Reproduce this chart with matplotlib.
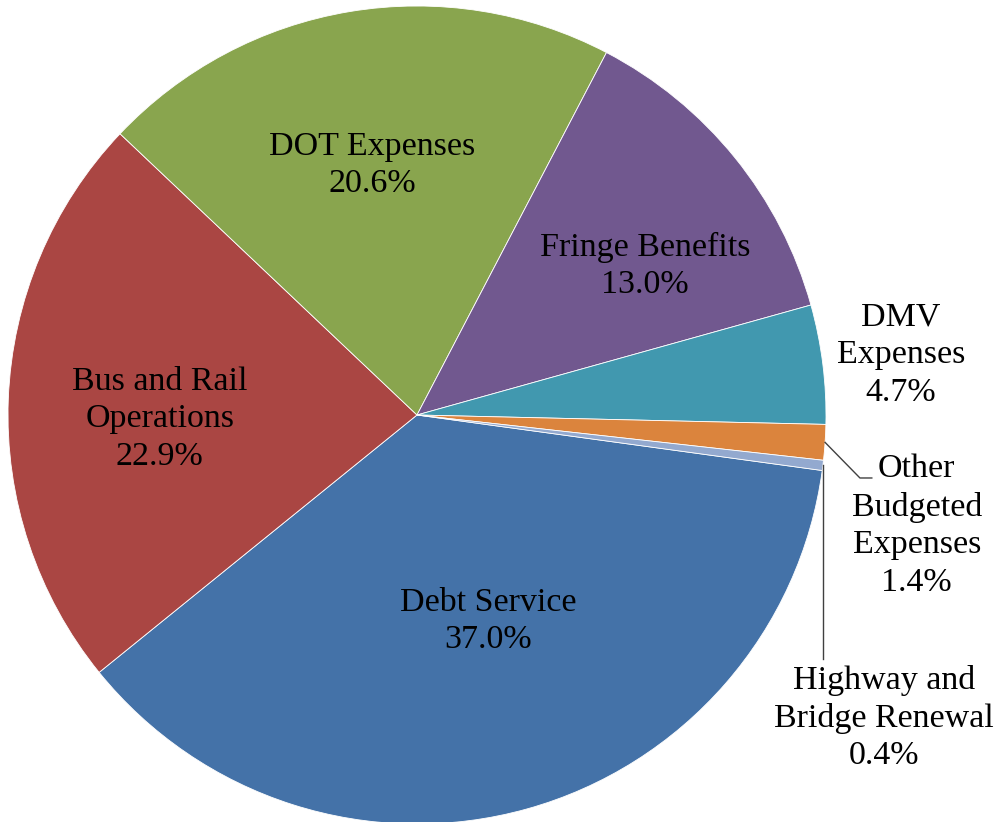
import numpy as np
import matplotlib
matplotlib.use('Agg')
import matplotlib.pyplot as plt

# budget shares, in the order the slices run clockwise
categories = ['Debt Service', 'Bus and Rail\nOperations', 'DOT Expenses', 'Fringe Benefits',
              'DMV\nExpenses', 'Other\nBudgeted\nExpenses', 'Highway and\nBridge Renewal']
shares = [37.0, 22.9, 20.6, 13.0, 4.7, 1.4, 0.4]
colors = ['#4472A8', '#AA4643', '#89A54E', '#71588F', '#4198AF', '#DB843D', '#93A9CF']

# label centres (data units, radius = 1)
label_pos = [(0.174, -0.504), (-0.629, -0.010), (-0.110, 0.611), (0.558, 0.364),
             (1.183, 0.147), (1.222, -0.271), (1.142, -0.741)]

fig = plt.figure(figsize=(10.04, 8.22), dpi=100)
ax = fig.add_axes([0, 0, 1, 1])

wedges, _ = ax.pie(shares, colors=colors, startangle=90 - 97.8, counterclock=False,
                   radius=1, wedgeprops=dict(edgecolor='white', linewidth=0.6))

for w, cat, val, (lx, ly) in zip(wedges, categories, shares, label_pos):
    ax.text(lx, ly, f'{cat}\n{val:.1f}%', ha='center', va='center', fontsize=24.5,
            family='Liberation Serif', linespacing=1.3, color='black')

# leader lines for the two thin slices
def mid_point(w):
    a = np.deg2rad((w.theta1 + w.theta2) / 2)
    return np.cos(a), np.sin(a)

ox, oy = mid_point(wedges[5])
ax.plot([ox, 1.083, 1.112], [oy, -0.154, -0.154], color='#404040', lw=1)
hx, hy = mid_point(wedges[6])
ax.plot([hx, hx], [hy, -0.597], color='#404040', lw=1)

ax.set_xlim(-417 / 409, (1004 - 417) / 409)
ax.set_ylim((415 - 822) / 409, 415 / 409)
ax.set_aspect('equal', adjustable='datalim')
ax.axis('off')

fig.savefig('out.png', dpi=100)
